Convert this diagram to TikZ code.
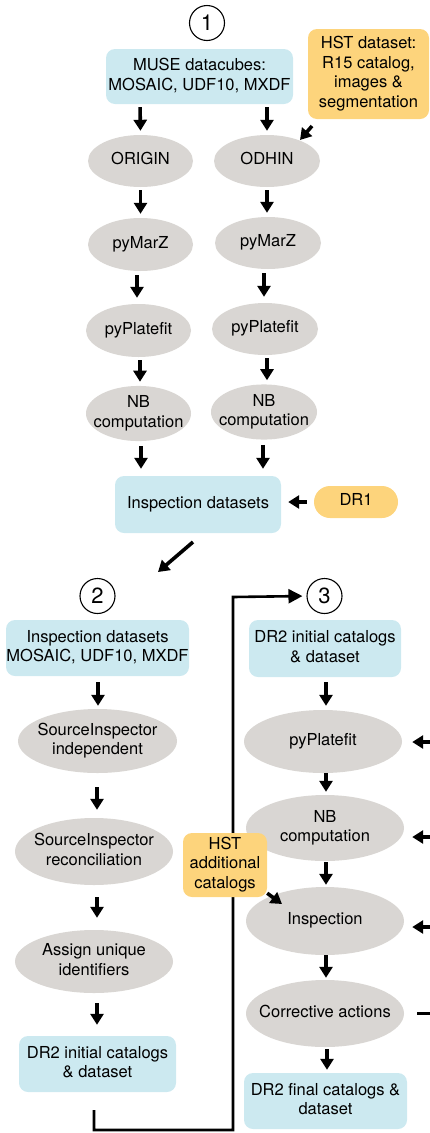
\documentclass[tikz,border=0pt]{standalone}
\usepackage{fontspec}
\setmainfont{TeX Gyre Heros}
\usetikzlibrary{arrows.meta,shapes.geometric,calc}
\definecolor{boxblue}{HTML}{CCE9F0}
\definecolor{ellgray}{HTML}{D9D6D3}
\definecolor{hstorange}{HTML}{FDD47C}
\newcommand{\ct}[1]{\makebox[0pt]{\begin{tabular}{@{}c@{}}#1\end{tabular}}}
\begin{document}
\begin{tikzpicture}[x=1pt,y=-1pt,
  txt/.style={font=\fontsize{16.5}{19.5}\selectfont, text=black, inner sep=0pt},
  bluebox/.style={txt, rectangle, rounded corners=9pt, fill=boxblue},
  orbox/.style={txt, rectangle, rounded corners=9pt, fill=hstorange},
  ell/.style={txt, ellipse, fill=ellgray},
  num/.style={circle, draw=black, line width=1.1pt, minimum size=35pt, inner sep=0pt, font=\fontsize{22}{24}\selectfont},
  arr/.style={-{Triangle[width=13pt,length=11pt]}, line width=3.6pt, shorten <=3pt, shorten >=4pt},
  conn/.style={line width=2.6pt},
]
\path[use as bounding box] (0,0) rectangle (430,1133);

% ---- Part 1 ----
\node[num] (c1) at (207,23) {1};
\node[bluebox, minimum width=187pt, minimum height=55pt] (muse) at (199.5,76.5) {\ct{MUSE datacubes:\\MOSAIC, UDF10, MXDF}};
\node[orbox, minimum width=121pt, minimum height=90pt] (hst1) at (368.5,74) {\ct{HST dataset:\\R15 catalog,\\images \&\\segmentation}};
\node[ell, minimum width=105pt, minimum height=52pt] (origin) at (140.5,161) {\ct{ORIGIN}};
\node[ell, minimum width=106pt, minimum height=52pt] (odhin) at (267,161) {\ct{ODHIN}};
\node[ell, minimum width=105pt, minimum height=53pt] (marzL) at (140.5,244.5) {\ct{pyMarZ}};
\node[ell, minimum width=106pt, minimum height=52pt] (marzR) at (268,243) {\ct{pyMarZ}};
\node[ell, minimum width=105pt, minimum height=53pt] (platL) at (138.5,330.5) {\ct{pyPlatefit}};
\node[ell, minimum width=106pt, minimum height=52pt] (platR) at (265,329) {\ct{pyPlatefit}};
\node[ell, minimum width=105pt, minimum height=53pt] (nbL) at (138.5,413.5) {\ct{NB\\computation}};
\node[ell, minimum width=106pt, minimum height=52pt] (nbR) at (264,412) {\ct{NB\\computation}};
\node[bluebox, minimum width=166pt, minimum height=57pt] (insp1) at (198,504.5) {\ct{Inspection datasets}};
\node[orbox, rounded corners=16pt, minimum width=84pt, minimum height=32pt] (dr1) at (356,502) {\ct{DR1}};

\coordinate (h1a) at (312,126);
\coordinate (h1b) at (300,140);
\draw[arr, shorten <=0pt, shorten >=0pt] (h1a) -- (h1b);
\draw[arr] (muse.south -| 140,0) -- (origin.north);
\draw[arr] (muse.south -| odhin.north) -- (odhin.north);
\draw[arr] (origin.south) -- (origin.south |- marzL.north);
\draw[arr] (odhin.south) -- (odhin.south |- marzR.north);
\draw[arr, shorten <=4pt, shorten >=6pt] (marzL.south -| 137,0) -- (platL.north -| 137,0);
\draw[arr, shorten <=4pt, shorten >=6pt] (marzR.south -| 264,0) -- (platR.north -| 264,0);
\draw[arr] (platL.south -| 140,0) -- (nbL.north -| 140,0);
\draw[arr] (platR.south -| 267,0) -- (nbR.north -| 267,0);
\draw[arr, shorten <=5pt, shorten >=7pt] (nbL.south -| 141,0) -- (insp1.north -| 141,0);
\draw[arr, shorten <=5pt, shorten >=7pt] (nbR.south -| 263,0) -- (insp1.north -| 263,0);
\draw[arr, shorten <=7pt, shorten >=7pt] (dr1.west) -- (dr1.west -| insp1.east);
\coordinate (d1) at (193,542);
\coordinate (d2) at (158,572);
\draw[arr, shorten <=0pt, shorten >=0pt] (d1) -- (d2);

% ---- Part 2 ----
\node[num] (c2) at (97.5,596) {2};
\node[bluebox, minimum width=183pt, minimum height=56pt] (insp2) at (97.5,648) {\ct{Inspection datasets\\MOSAIC, UDF10, MXDF}};
\node[ell, minimum width=159pt, minimum height=64pt] (siInd) at (97.5,741) {\ct{SourceInspector\\independent}};
\node[ell, minimum width=158pt, minimum height=67pt] (siRec) at (94,851.5) {\ct{SourceInspector\\reconciliation}};
\node[ell, minimum width=158pt, minimum height=63pt] (assign) at (94,961.5) {\ct{Assign unique\\identifiers}};
\node[bluebox, minimum width=157pt, minimum height=56pt] (dr2i) at (97.5,1064) {\ct{DR2 initial catalogs\\\& dataset}};

\draw[arr, shorten <=6pt, shorten >=3pt] (insp2.south -| 98,0) -- (siInd.north -| 98,0);
\draw[arr, shorten <=14pt, shorten >=8pt] (siInd.south -| 97,0) -- (siRec.north -| 97,0);
\draw[arr, shorten <=12pt, shorten >=12pt] (siRec.south -| 97,0) -- (assign.north -| 97,0);
\draw[arr, shorten <=10pt, shorten >=11pt] (assign.south -| 97,0) -- (dr2i.north -| 97,0);

% ---- Part 3 ----
\node[num] (c3) at (324.5,596) {3};
\node[bluebox, minimum width=152pt, minimum height=57pt] (dr2iR) at (325,648.5) {\ct{DR2 initial catalogs\\\& dataset}};
\node[ell, minimum width=158pt, minimum height=63pt] (platR2) at (323,741.5) {\ct{pyPlatefit}};
\node[ell, minimum width=158pt, minimum height=66pt] (nbR2) at (325,828) {\ct{NB\\computation}};
\node[ell, minimum width=158pt, minimum height=68pt] (inspR) at (325,921) {\ct{Inspection}};
\node[ell, minimum width=158pt, minimum height=67pt] (corr) at (325,1013.5) {\ct{Corrective actions}};
\node[bluebox, minimum width=163pt, minimum height=56pt] (dr2f) at (325.5,1101) {\ct{DR2 final catalogs \&\\dataset}};

\draw[arr, shorten <=5pt, shorten >=4pt] (dr2iR.south -| 326,0) -- (platR2.north -| 326,0);
\draw[arr, shorten <=0pt, shorten >=3pt] (platR2.south -| 326,0) -- (nbR2.north -| 326,0);
\draw[arr, shorten <=1pt, shorten >=2pt] (nbR2.south -| 326,0) -- (inspR.north -| 326,0);
\draw[arr, shorten <=0pt, shorten >=2pt] (inspR.south -| 326,0) -- (corr.north -| 326,0);
\draw[arr, shorten <=2pt, shorten >=3pt] (corr.south -| 327,0) -- (dr2f.north -| 327,0);

% feedback stubs at the right edge
\coordinate (r1) at (430,742);
\coordinate (r2) at (430,837);
\coordinate (r3) at (430,927);
\coordinate (r4) at (430,1013.5);
\draw[arr, shorten <=0pt, shorten >=10pt] (r1) -- (r1 -| platR2.east);
\draw[arr, shorten <=0pt, shorten >=8pt] (r2) -- (r2 -| nbR2.east);
\draw[arr, shorten <=0pt, shorten >=8pt] (r3) -- (r3 -| inspR.east);
\draw[line width=2.2pt, shorten >=13pt] (r4) -- (corr.east);

% connector from part 2 to part 3
\coordinate (k0) at (94,1110);
\coordinate (k1) at (94,1130);
\coordinate (k2) at (233,1130);
\coordinate (k3) at (233,597);
\draw[conn, -{Triangle[width=14pt,length=14pt]}, line join=miter, shorten >=4pt] (k0) -- (k1) -- (k2) -- (k3) -- (c3.west);

\node[orbox, minimum width=84pt, minimum height=64pt] (hst2) at (225,865) {\ct{HST\\additional\\catalogs}};
\draw[arr, shorten <=0pt, shorten >=0pt] ($(hst2.south east)+(0,-4)$) -- (282,904);
\end{tikzpicture}
\end{document}
